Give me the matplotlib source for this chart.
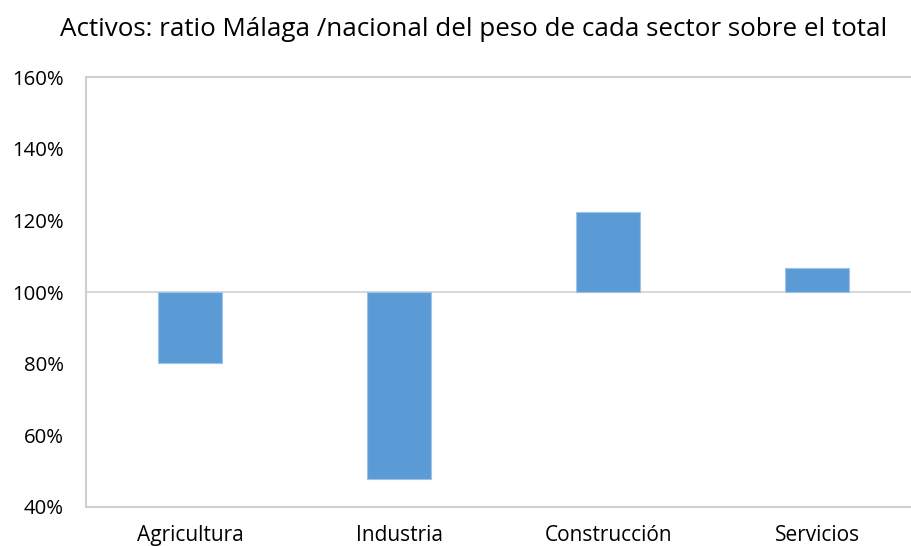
import numpy as np
import matplotlib.pyplot as plt

sectores = ["Agricultura", "Industria", "Construcción", "Servicios"]
ratios = [80.2, 47.8, 122.3, 106.7]   # % Málaga / nacional
base = 100
yticks = [40, 60, 80, 100, 120, 140, 160]

plt.rcParams["font.family"] = ["Open Sans", "DejaVu Sans"]

fig = plt.figure(figsize=(9.12, 5.46), dpi=100)
# plot area runs past the right edge of the picture, like the original
ax = fig.add_axes([86 / 912, 1 - 507 / 546, 835.5 / 912, 430 / 546])

x = np.arange(len(sectores))
heights = [r - base for r in ratios]
ax.bar(x, heights, bottom=base, width=0.306, color="#5B9BD5",
       edgecolor="#9DC3E6", linewidth=0.8, zorder=3)

ax.axhline(base, color="#D9D9D9", linewidth=1.5, zorder=2)

ax.set_xlim(-0.5, 3.5)
ax.set_ylim(40, 160)
ax.set_yticks(yticks)
ax.set_yticklabels([f"{t}%" for t in yticks], fontsize=14.7, color="#000000")
ax.set_xticks(x)
ax.set_xticklabels(sectores, fontsize=15)
ax.tick_params(axis="y", length=0, pad=16)
ax.tick_params(axis="x", length=0, pad=13)

for side in ["top", "bottom", "left"]:
    ax.spines[side].set_color("#D0D0D0")
    ax.spines[side].set_linewidth(1.5)
ax.spines["right"].set_visible(False)

fig.text(474 / 912, 1 - 29 / 546,
         "Activos: ratio Málaga /nacional del peso de cada sector sobre el total",
         ha="center", va="center", fontsize=18.7)

fig.savefig("out.png", dpi=100)
